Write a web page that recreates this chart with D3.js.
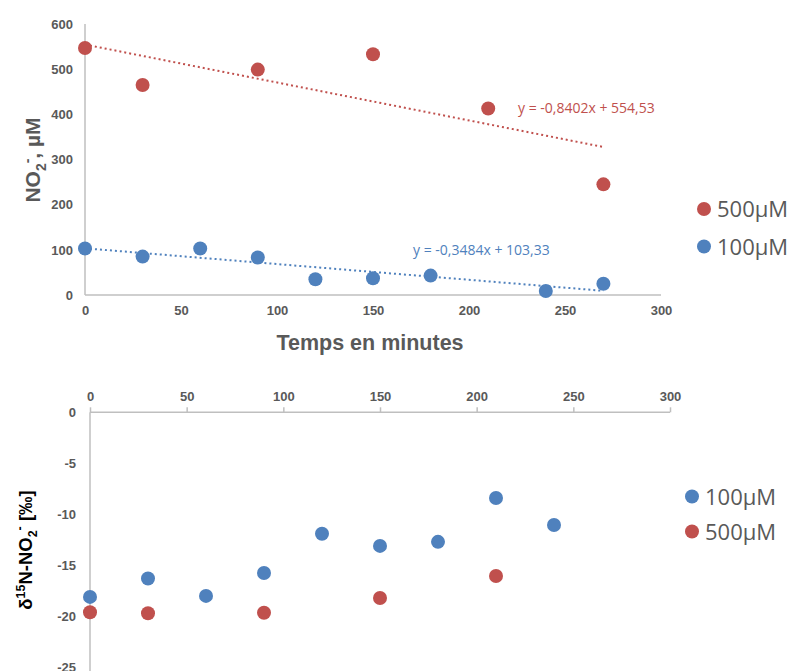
<!DOCTYPE html>
<html><head><meta charset="utf-8">
<script src="https://cdn.jsdelivr.net/npm/d3@7"></script>
<style>body{margin:0;background:#fff}svg{display:block}</style>
</head><body>
<script>
// ---- Data ----
const xTicks = [0, 50, 100, 150, 200, 250, 300];
const topYTicks = [0, 100, 200, 300, 400, 500, 600];
const botYTicks = [0, -5, -10, -15, -20, -25];

const no2Time500 = [0, 30, 90, 150, 210, 270];
const no2Val500  = [547, 465, 499, 533, 413, 245];
const no2Time100 = [0, 30, 60, 90, 120, 150, 180, 240, 270];
const no2Val100  = [103, 85, 103, 83, 35, 37, 43, 9, 25];

const trend500 = {slope: -0.8402, intercept: 554.53, label: "y = -0,8402x + 554,53"};
const trend100 = {slope: -0.3484, intercept: 103.33, label: "y = -0,3484x + 103,33"};
const trendRange = [0, 270];

const d15Time100 = [0, 30, 60, 90, 120, 150, 180, 210, 240];
const d15Val100  = [-18.1, -16.3, -18.0, -15.75, -11.9, -13.1, -12.7, -8.4, -11.05];
const d15Time500 = [0, 30, 90, 150, 210];
const d15Val500  = [-19.6, -19.7, -19.65, -18.2, -16.05];

const RED = "#C0504D", BLUE = "#4F81BD", TXT = "#595959", AX = "#BFBFBF";

const svg = d3.select("body").append("svg").attr("width", 792).attr("height", 671);
const tickFont = "Liberation Sans, Arial, sans-serif";
const fmt = d => String(d);

// ---- Top chart ----
const x1 = d3.scaleLinear().domain([0, 300]).range([85, 661]);
const y1 = d3.scaleLinear().domain([0, 600]).range([295, 24]);

const gx1 = svg.append("g").attr("transform", `translate(0,${y1(0)})`)
  .call(d3.axisBottom(x1).tickValues(xTicks).tickFormat(fmt).tickSize(0).tickPadding(11));
const gy1 = svg.append("g").attr("transform", `translate(${x1(0)},0)`)
  .call(d3.axisLeft(y1).tickValues(topYTicks).tickFormat(fmt).tickSize(0).tickPadding(12));
[gx1, gy1].forEach(g => {
  g.select(".domain").attr("stroke", AX).attr("stroke-width", 1.5);
  g.selectAll("text").attr("fill", TXT).attr("font-family", tickFont)
    .attr("font-weight", "bold").attr("font-size", 13);
});
gx1.select(".domain").attr("d", `M${x1(0)},0H${x1(300)}`);
gy1.select(".domain").attr("d", `M0,${y1(600)}V${y1(0)}`);

const line1 = d3.line().x(d => x1(d[0])).y(d => y1(d[1]));
[[trend500, RED], [trend100, BLUE]].forEach(([t, c]) => {
  svg.append("path")
    .attr("d", line1(trendRange.map(v => [v, t.slope * v + t.intercept])))
    .attr("fill", "none").attr("stroke", c).attr("stroke-width", 2)
    .attr("stroke-dasharray", "2,3");
});

function dots(xs, ys, xsc, ysc, col, r) {
  svg.append("g").selectAll("circle").data(xs.map((v, i) => [v, ys[i]])).join("circle")
    .attr("cx", d => xsc(d[0])).attr("cy", d => ysc(d[1])).attr("r", r).attr("fill", col);
}
dots(no2Time500, no2Val500, x1, y1, RED, 7);
dots(no2Time100, no2Val100, x1, y1, BLUE, 7);

svg.append("text").attr("x", 518).attr("y", 113).attr("fill", RED)
  .attr("font-family", "Open Sans, sans-serif").attr("font-size", 14).text(trend500.label);
svg.append("text").attr("x", 413).attr("y", 255).attr("fill", BLUE)
  .attr("font-family", "Open Sans, sans-serif").attr("font-size", 14).text(trend100.label);

svg.append("text").attr("x", 370).attr("y", 350).attr("text-anchor", "middle")
  .attr("fill", TXT).attr("font-family", tickFont).attr("font-weight", "bold")
  .attr("font-size", 21.5).text("Temps en minutes");

const yt1 = svg.append("text").attr("transform", "translate(40,160) rotate(-90)")
  .attr("text-anchor", "middle").attr("fill", TXT).attr("font-family", tickFont)
  .attr("font-weight", "bold").attr("font-size", 21);
yt1.append("tspan").text("NO");
yt1.append("tspan").attr("font-size", 14).attr("dy", 6).text("2");
yt1.append("tspan").attr("font-size", 14).attr("dy", -14).text("-");
yt1.append("tspan").attr("dy", 8).text(", µM");

// legend
const legFont = "Open Sans, sans-serif";
function legend(items, x, y0, gap) {
  items.forEach(([lab, c], i) => {
    svg.append("circle").attr("cx", x).attr("cy", y0 + i * gap).attr("r", 7).attr("fill", c);
    svg.append("text").attr("x", x + 13).attr("y", y0 + i * gap + 8).attr("fill", TXT)
      .attr("font-family", legFont).attr("font-size", 22).text(lab);
  });
}
legend([["500µM", RED], ["100µM", BLUE]], 704, 209, 37.5);

// ---- Bottom chart ----
const x2 = d3.scaleLinear().domain([0, 300]).range([90, 670]);
const y2 = d3.scaleLinear().domain([0, -25]).range([412.3, 667.3]);

const gx2 = svg.append("g").attr("transform", `translate(0,${y2(0)})`)
  .call(d3.axisTop(x2).tickValues(xTicks).tickFormat(fmt).tickSize(5).tickPadding(6));
const gy2 = svg.append("g").attr("transform", `translate(${x2(0)},0)`)
  .call(d3.axisLeft(y2).tickValues(botYTicks).tickFormat(fmt).tickSize(0).tickPadding(14));
[gx2, gy2].forEach(g => {
  g.select(".domain").attr("stroke", AX).attr("stroke-width", 1.5);
  g.selectAll("line").attr("stroke", AX).attr("stroke-width", 1.5);
  g.selectAll("text").attr("fill", TXT).attr("font-family", tickFont)
    .attr("font-weight", "bold").attr("font-size", 13);
});
gx2.select(".domain").attr("d", `M${x2(0)},0H${x2(300)}`);
gy2.select(".domain").attr("d", `M0,${y2(0)}V${y2(-25) + 10}`);

dots(d15Time100, d15Val100, x2, y2, BLUE, 7);
dots(d15Time500, d15Val500, x2, y2, RED, 7);

const yt2 = svg.append("text").attr("transform", "translate(32,550) rotate(-90)")
  .attr("text-anchor", "middle").attr("fill", "#000").attr("font-family", tickFont)
  .attr("font-weight", "bold").attr("font-size", 18.5);
yt2.append("tspan").text("δ");
yt2.append("tspan").attr("font-size", 12.5).attr("dy", -7).text("15");
yt2.append("tspan").attr("dy", 7).text("N-NO");
yt2.append("tspan").attr("font-size", 12.5).attr("dy", 5).text("2");
yt2.append("tspan").attr("font-size", 12.5).attr("dy", -13).text("-");
yt2.append("tspan").attr("dy", 8).text(" [‰]");

legend([["100µM", BLUE], ["500µM", RED]], 692, 496.5, 35);
</script>
</body></html>
